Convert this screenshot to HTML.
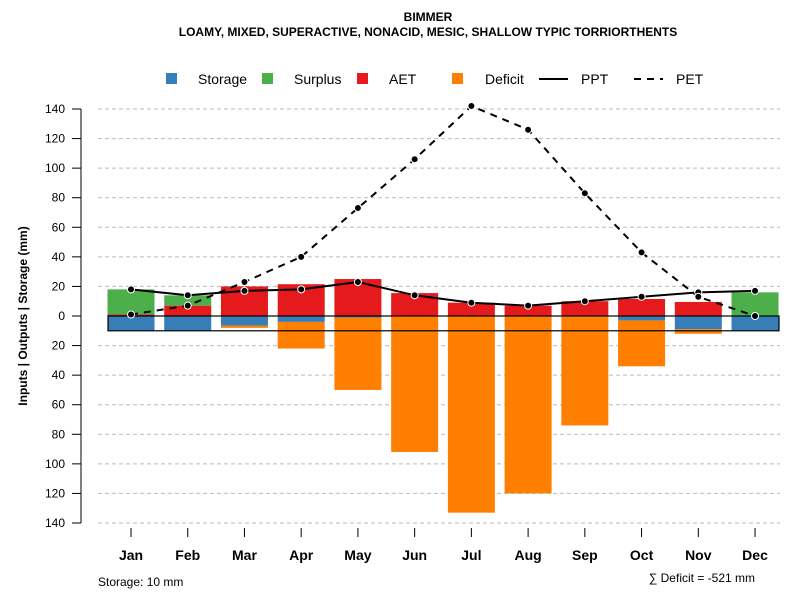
<!DOCTYPE html>
<html><head><meta charset="utf-8"><style>
body{margin:0;background:#fff}
svg{font-family:"Liberation Sans",sans-serif}
</style></head><body>
<svg id="c" width="800" height="600">
<text x="428" y="21" text-anchor="middle" font-size="12" font-weight="bold">BIMMER</text>
<text x="428" y="36" text-anchor="middle" font-size="12" font-weight="bold">LOAMY, MIXED, SUPERACTIVE, NONACID, MESIC, SHALLOW TYPIC TORRIORTHENTS</text>
<g id="grid"></g><g id="bars"></g><g id="lines"></g><g id="axes"></g>
<g font-size="14">
<rect x="166" y="73" width="11" height="11" fill="#377eb8"/><text x="198" y="84">Storage</text>
<rect x="262" y="73" width="11" height="11" fill="#4daf4a"/><text x="294" y="84">Surplus</text>
<rect x="357" y="73" width="11" height="11" fill="#e41a1c"/><text x="389" y="84">AET</text>
<rect x="452" y="73" width="11" height="11" fill="#ff7f00"/><text x="485" y="84">Deficit</text>
<line x1="539" y1="79" x2="568" y2="79" stroke="#000" stroke-width="2"/><text x="581" y="84">PPT</text>
<line x1="634" y1="79" x2="663" y2="79" stroke="#000" stroke-width="2" stroke-dasharray="7,6"/><text x="676" y="84">PET</text>
</g>
<text transform="translate(27,316) rotate(-90)" text-anchor="middle" font-size="12" font-weight="bold">Inputs | Outputs | Storage    (mm)</text>
<text x="98" y="586" font-size="12">Storage: 10 mm</text>
<text x="755" y="582" text-anchor="end" font-size="12">∑ Deficit = -521 mm</text>
</svg>
<script>
const months=["Jan","Feb","Mar","Apr","May","Jun","Jul","Aug","Sep","Oct","Nov","Dec"];
const aet=[1,7,20,21.5,25,15.5,9,7,10,11.5,9.5,0];
const surplus=[17,7,0,0,0,0,0,0,0,0,0,16];
const storage=[10,10,6.5,4,1,0,0,0,0.5,3,9,10];
const deficit=[0,0,1.5,18,49,92,133,120,73.5,31,3,0];
const ppt=[18,14,17,18,23,14,9,7,10,13,16,17];
const pet=[1,7,23,40,73,106,142,126,83,43,13,0];
const yTicks=[-140,-120,-100,-80,-60,-40,-20,0,20,40,60,80,100,120,140];
const NS="http://www.w3.org/2000/svg";
const y=v=>316-v*1.4786;
const x=i=>131+i*56.73;
function mk(p,t,a){const e=document.createElementNS(NS,t);for(const k in a)e.setAttribute(k,a[k]);p.appendChild(e);return e;}
const G=document.getElementById('grid'),B=document.getElementById('bars'),L=document.getElementById('lines'),A=document.getElementById('axes');
mk(A,'line',{x1:81,y1:y(140),x2:81,y2:y(-140),stroke:'#000'});
yTicks.forEach(v=>{
 if(v!==0){const g=mk(G,'line',{x1:98,x2:780,y1:y(v),y2:y(v),stroke:'#bbb','stroke-dasharray':'4,3'});
 
 }
 mk(A,'line',{x1:72,x2:81,y1:y(v),y2:y(v),stroke:'#000'});
 const t=mk(A,'text',{x:65,y:y(v)+4,'text-anchor':'end','font-size':12});t.textContent=Math.abs(v);
 
 
});
const w=47;
months.forEach((m,i)=>{
 const cx=x(i),x0=cx-w/2;
 const r=(a,b,c,n)=>{if(Math.abs(b-a)<0.01)return;const e=mk(B,'rect',{x:x0,y:Math.min(y(a),y(b)),width:w,height:Math.abs(y(a)-y(b)),fill:c});
  
  };
 r(0,aet[i],'#e41a1c','bar-aet');
 r(aet[i],aet[i]+surplus[i],'#4daf4a','bar-surplus');
 r(0,-storage[i],'#377eb8','bar-storage');
 r(-storage[i],-storage[i]-deficit[i],'#ff7f00','bar-deficit');
 mk(A,'line',{x1:cx,x2:cx,y1:528,y2:537,stroke:'#000'});
 const t=mk(A,'text',{x:cx,y:560,'text-anchor':'middle','font-size':14,'font-weight':'bold'});t.textContent=m;
 
 
});
mk(B,'rect',{x:108,y:y(0),width:671,height:y(-10)-y(0),fill:'none',stroke:'#000','stroke-width':1.2});
const ptsP=ppt.map((v,i)=>x(i)+','+y(v)).join(' ');
const ptsE=pet.map((v,i)=>x(i)+','+y(v)).join(' ');
const pl=mk(L,'polyline',{points:ptsE,fill:'none',stroke:'#000','stroke-width':2,'stroke-dasharray':'7,6'});


const pp=mk(L,'polyline',{points:ptsP,fill:'none',stroke:'#000','stroke-width':2});


[ppt,pet].forEach((arr,k)=>arr.forEach((v,i)=>{const c=mk(L,'circle',{cx:x(i),cy:y(v),r:3.5,fill:'#000',stroke:'#fff','stroke-width':1});
 
 }));
</script>
</body></html>
